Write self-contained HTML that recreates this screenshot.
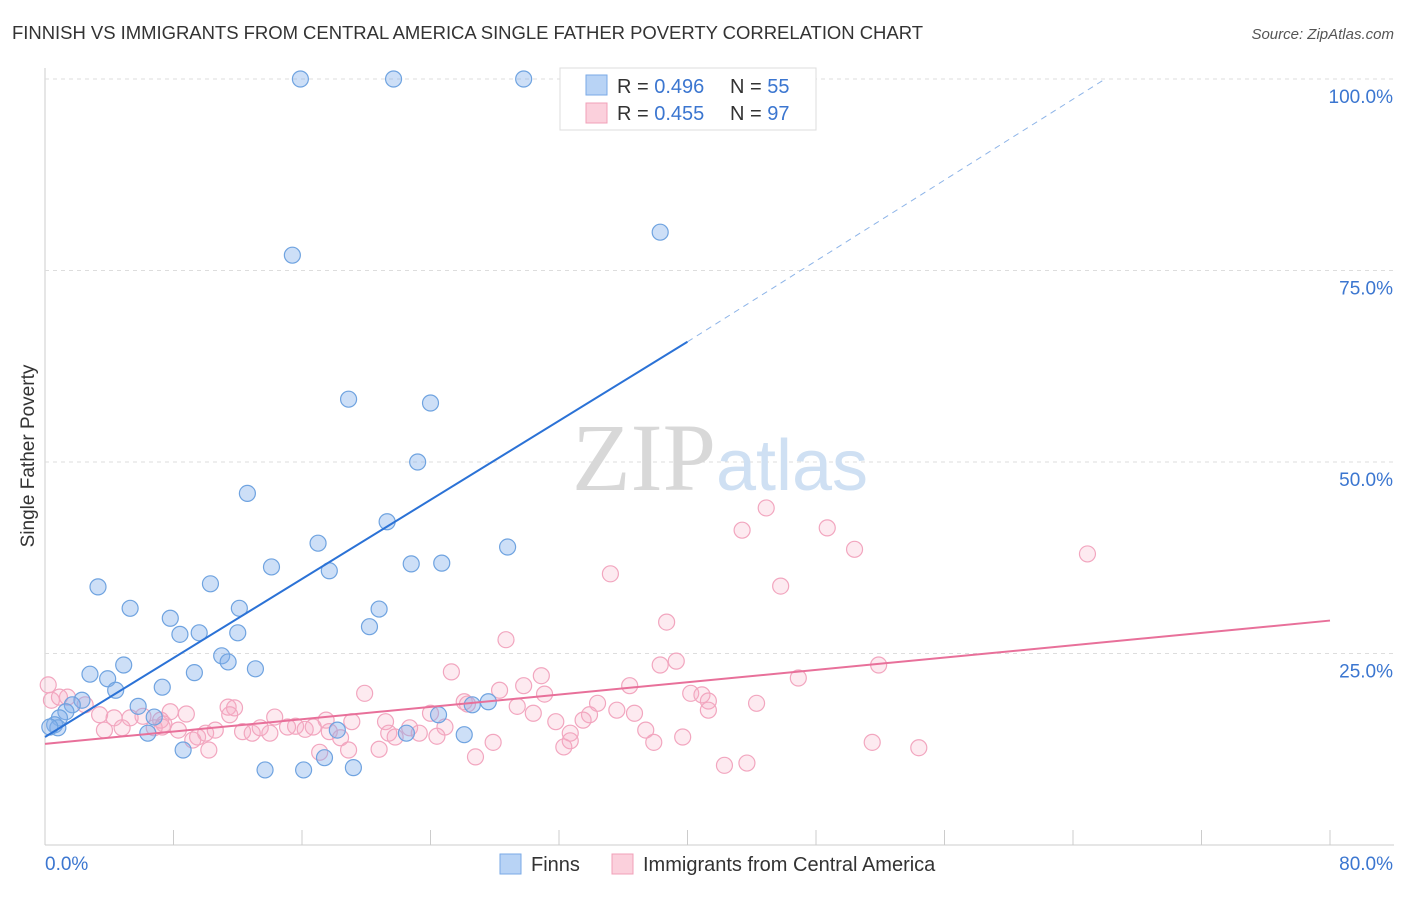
<!DOCTYPE html>
<html><head><meta charset="utf-8"><style>
body{margin:0;background:#fff;font-family:"Liberation Sans",sans-serif;}
svg text{font-family:"Liberation Sans",sans-serif;}
</style></head><body>
<svg id="chart" width="1406" height="892" xmlns="http://www.w3.org/2000/svg">
<text x="12" y="39" font-size="18.5" fill="#333" textLength="911">FINNISH VS IMMIGRANTS FROM CENTRAL AMERICA SINGLE FATHER POVERTY CORRELATION CHART</text>
<text x="1394" y="39" font-size="15" fill="#555" text-anchor="end" font-style="italic">Source: ZipAtlas.com</text>
<text x="34" y="456" font-size="19" fill="#333" text-anchor="middle" transform="rotate(-90 34 456)">Single Father Poverty</text>
<g id="grid"></g>
<text x="720" y="490" font-size="96" fill="#ddd" text-anchor="middle" font-family="Liberation Serif"><tspan fill="#d8d8d8" font-family="Liberation Serif">ZIP</tspan><tspan fill="#cfe0f3" font-size="72" font-family="Liberation Sans">atlas</tspan></text>
<g id="marks"></g>
<g>
<rect x="560" y="68" width="256" height="62" fill="#fff" stroke="#ddd"/>
<rect x="586" y="75" width="21" height="20" fill="#b8d3f5" stroke="#7aaae6"/>
<text y="93" font-size="20" fill="#333"><tspan x="617">R = </tspan><tspan fill="#3b76d0">0.496</tspan><tspan x="730">N = </tspan><tspan fill="#3b76d0">55</tspan></text>
<rect x="586" y="103" width="21" height="20" fill="#fbd0dc" stroke="#f0a0b8"/>
<text y="120" font-size="20" fill="#333"><tspan x="617">R = </tspan><tspan fill="#3b76d0">0.455</tspan><tspan x="730">N = </tspan><tspan fill="#3b76d0">97</tspan></text>
</g>
<g>
<rect x="500" y="854" width="21" height="20" fill="#b8d3f5" stroke="#7aaae6"/>
<text x="531" y="871" font-size="20" fill="#333">Finns</text>
<rect x="612" y="854" width="21" height="20" fill="#fbd0dc" stroke="#f0a0b8"/>
<text x="643" y="871" font-size="20" fill="#333">Immigrants from Central America</text>
</g>
</svg>
<script>
const xTicks=[0,8,16,24,32,40,48,56,64,72,80];
const yTicks=[25,50,75,100];
const blueX=[15.9,21.7,29.8,38.3,15.4,18.9,24.0,23.2,12.6,21.3,17.0,28.8,14.1,22.8,24.7,17.7,3.3,10.3,5.3,12.1,20.8,7.8,8.4,9.6,12.0,20.2,11.0,11.4,4.9,13.1,2.8,9.3,3.9,7.3,4.4,2.3,5.8,1.7,27.6,26.6,1.3,6.8,0.9,0.6,0.8,0.3,6.4,18.2,22.5,24.5,26.1,8.6,13.7,16.1,17.4,19.2];
const blueY=[100,100,100,80.0,77.0,58.2,57.7,50.0,45.9,42.2,39.4,38.9,36.3,36.7,36.8,35.8,33.7,34.1,30.9,30.9,30.8,29.6,27.5,27.7,27.7,28.5,24.7,23.9,23.5,23.0,22.3,22.5,21.7,20.6,20.2,18.9,18.1,18.3,18.7,18.3,17.4,16.7,16.6,15.7,15.3,15.4,14.6,15.0,14.6,17.0,14.4,12.4,9.8,9.8,11.4,10.1];
const pinkX=[44.9,43.4,48.7,50.4,64.9,35.2,45.8,38.7,28.7,39.3,38.3,51.9,25.3,30.9,29.8,36.4,28.3,19.9,31.1,40.2,40.9,46.9,44.3,34.4,26.1,26.3,29.4,41.3,41.3,24.0,30.4,35.6,36.7,33.9,7.8,11.4,8.8,11.8,0.4,1.4,2.5,3.4,4.3,6.1,7.2,7.4,14.3,15.6,17.5,21.2,19.1,22.7,21.4,24.9,0.2,0.9,5.3,3.7,4.8,6.8,8.3,9.5,10.0,10.6,12.3,12.9,13.4,14.0,15.1,16.2,16.7,17.7,18.4,21.8,23.3,24.4,27.9,32.7,31.8,33.5,37.4,39.7,37.9,32.7,32.3,18.9,20.8,17.1,10.2,9.2,26.8,51.5,54.4,42.3,43.7,7.3,11.5];
const pinkY=[44.0,41.1,41.4,38.6,38.0,35.4,33.8,29.1,26.8,24.0,23.5,23.5,22.6,22.1,20.8,20.8,20.2,19.8,19.7,19.8,19.6,21.8,18.5,18.5,18.7,18.4,18.1,18.8,17.6,17.2,17.2,17.6,17.2,17.0,17.4,18.0,17.1,17.9,18.9,19.3,18.3,17.0,16.6,16.8,16.3,15.8,16.7,15.5,16.3,16.1,16.1,15.3,14.6,15.4,20.9,19.3,16.6,15.0,15.3,15.3,15.0,14.1,14.6,15.0,14.8,14.6,15.3,14.6,15.4,15.1,15.4,14.8,14.0,14.1,14.6,14.2,13.4,14.6,16.1,16.3,15.0,14.1,13.4,13.6,12.8,12.4,12.5,12.1,12.4,13.7,11.5,13.4,12.7,10.4,10.7,15.4,17.0];
const blueLine=[0,14.1,40,65.7,66,100];
const pinkLine=[0,13.2,80,29.3];
const NS='http://www.w3.org/2000/svg';
const X=v=>45+v/80*1285, Y=v=>845-v/100*766;
const grid=document.getElementById('grid'),marks=document.getElementById('marks');
function mk(tag,at,parent){const e=document.createElementNS(NS,tag);for(const k in at)e.setAttribute(k,at[k]);parent.appendChild(e);return e;}
let ax=mk('line',{x1:45,y1:68,x2:45,y2:845,stroke:'#ccc'},grid);


let bx=mk('line',{x1:45,y1:845,x2:1394,y2:845,stroke:'#ccc'},grid);


yTicks.forEach(t=>{
 let g=mk('line',{x1:45,y1:Y(t),x2:1394,y2:Y(t),stroke:'#ddd','stroke-dasharray':'4,4'},grid);
 
 
 let l=mk('text',{x:1393,y:Y(t)+24,'font-size':19,fill:'#3b76d0','text-anchor':'end'},grid);l.textContent=t.toFixed(1)+'%';
 
 
});
xTicks.slice(1).forEach(t=>{
 let k=mk('line',{x1:X(t),y1:845,x2:X(t),y2:830,stroke:'#ccc'},grid);
 
 
});
let xl=mk('text',{x:45,y:870,'font-size':19,fill:'#3b76d0'},grid);xl.textContent=xTicks[0].toFixed(1)+'%';


let xr=mk('text',{x:1393,y:870,'font-size':19,fill:'#3b76d0','text-anchor':'end'},grid);xr.textContent=xTicks[xTicks.length-1].toFixed(1)+'%';


pinkX.forEach((v,i)=>{let c=mk('circle',{cx:X(v),cy:Y(pinkY[i]),r:8,fill:'rgba(246,170,195,0.25)',stroke:'#f2a6bf','stroke-width':1.2},marks);
 
 });
blueX.forEach((v,i)=>{let c=mk('circle',{cx:X(v),cy:Y(blueY[i]),r:8,fill:'rgba(130,175,235,0.4)',stroke:'#6fa3e0','stroke-width':1.2},marks);
 
 });
let bl=mk('line',{x1:X(blueLine[0]),y1:Y(blueLine[1]),x2:X(blueLine[2]),y2:Y(blueLine[3]),stroke:'#2b72d6','stroke-width':2},marks);


let bd=mk('line',{x1:X(blueLine[2]),y1:Y(blueLine[3]),x2:X(blueLine[4]),y2:Y(blueLine[5]),stroke:'#8db4e8','stroke-width':1,'stroke-dasharray':'6,5'},marks);


let pl=mk('line',{x1:X(pinkLine[0]),y1:Y(pinkLine[1]),x2:X(pinkLine[2]),y2:Y(pinkLine[3]),stroke:'#e8709a','stroke-width':2},marks);


</script>
</body></html>
